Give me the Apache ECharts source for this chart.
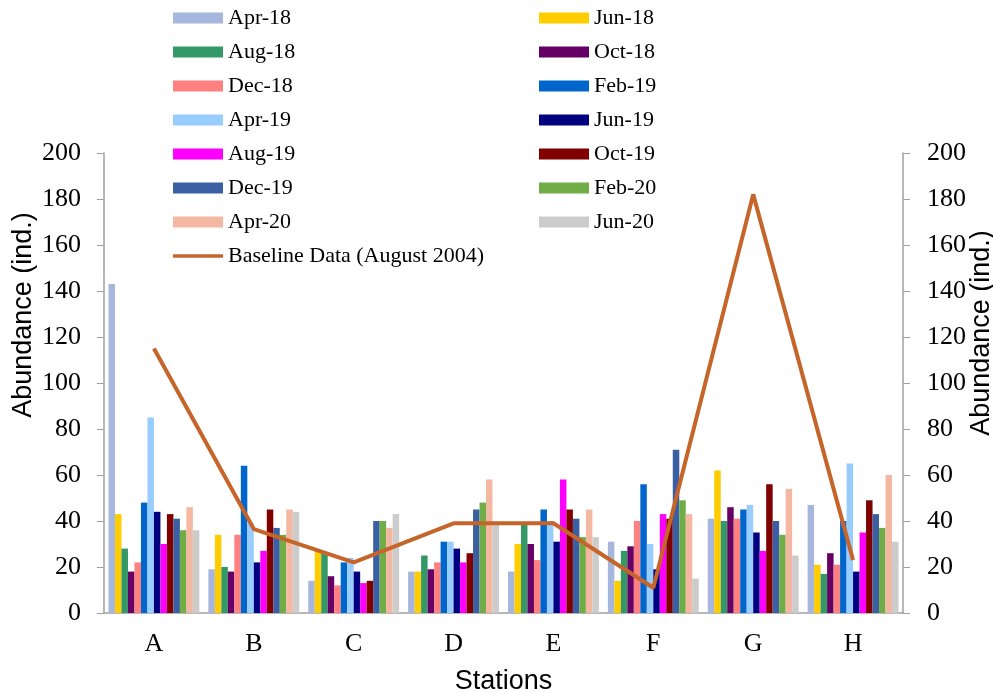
<!DOCTYPE html>
<html>
<head>
<meta charset="utf-8">
<script src="https://cdn.jsdelivr.net/npm/echarts@6/dist/echarts.min.js"></script>
<style>html,body{margin:0;padding:0;background:#fff;overflow:hidden;}#c{width:993px;height:692px;}</style>
</head>
<body>
<div id="c"></div>
<script>
const stations = ['A','B','C','D','E','F','G','H'];
const yTicks = [0,20,40,60,80,100,120,140,160,180,200];
const apr18 = [143,19,14,18,18,31,41,47];
const jun18 = [43,34,27,18,30,14,62,21];
const aug18 = [28,20,26,25,39,27,40,17];
const oct18 = [18,18,16,19,30,29,46,26];
const dec18 = [22,34,12,22,23,40,41,21];
const feb19 = [48,64,22,31,45,56,45,40];
const apr19 = [85,39,24,31,40,30,47,65];
const jun19 = [44,22,18,28,31,19,35,18];
const aug19 = [30,27,13,22,58,43,27,35];
const oct19 = [43,45,14,26,45,41,56,49];
const dec19 = [41,37,40,45,41,71,40,43];
const feb20 = [36,34,40,48,33,49,34,37];
const apr20 = [46,45,37,58,45,43,54,60];
const jun20 = [36,44,43,39,33,15,25,31];
const baseline = [115,36.5,22,39,39,11,182,23];

const barNames = ['Apr-18','Jun-18','Aug-18','Oct-18','Dec-18','Feb-19','Apr-19','Jun-19','Aug-19','Oct-19','Dec-19','Feb-20','Apr-20','Jun-20'];
const barData = [apr18,jun18,aug18,oct18,dec18,feb19,apr19,jun19,aug19,oct19,dec19,feb20,apr20,jun20];
const barColors = ['#A7B6DC','#FFCC00','#339966','#660066','#FF8080','#0066CC','#99CCFF','#000080','#FF00FF','#800000','#3A5FA3','#70AD47','#F4B8A2','#CCCCCC'];
const lineName = 'Baseline Data (August 2004)';
const lineColor = '#C5652A';

const serif = 'Liberation Serif';
const sans = 'Liberation Sans';

const series = barNames.map((n,i)=>({
  name:n, type:'bar', data:barData[i], barGap:'0%', barCategoryGap:'9%',
  itemStyle:{color:barColors[i]}, animation:false
}));
series.push({
  name:lineName, type:'line', data:baseline, symbol:'none', z:10,
  lineStyle:{color:lineColor, width:4}, itemStyle:{color:lineColor}, animation:false
});

const legendCommon = {
  orient:'vertical', top:2, itemWidth:50, itemHeight:11, itemGap:12, icon:'rect',
  textStyle:{fontFamily:serif, fontSize:22, lineHeight:22, color:'#000'}
};
const leftNames = barNames.filter((_,i)=>i%2===0).map(n=>({name:n}))
  .concat([{name:lineName, icon:'path://M0,0H52V3.5H0Z'}]);
const rightNames = barNames.filter((_,i)=>i%2===1).map(n=>({name:n}));

const yAxisCommon = {
  type:'value', min:0, max:200, interval:20,
  axisLine:{show:true, lineStyle:{color:'#A0A0A0', width:1.5}},
  axisTick:{show:true, length:7, inside:false, lineStyle:{color:'#A0A0A0'}},
  splitLine:{show:false},
  name:'Abundance (ind.)', nameLocation:'middle', nameRotate:90, nameMoveOverlap:false
};

const chart = echarts.init(document.getElementById('c'), null, {renderer:'canvas'});
chart.setOption({
  animation:false,
  backgroundColor:'#fff',
  grid:{left:104, right:90, top:153, bottom:79, containLabel:false, outerBoundsMode:'none'},
  legend:[
    Object.assign({left:168, data:leftNames}, legendCommon),
    Object.assign({left:534, data:rightNames}, legendCommon)
  ],
  xAxis:{
    type:'category', data:stations,
    axisLine:{lineStyle:{color:'#A0A0A0', width:1.5}},
    axisTick:{show:false},
    axisLabel:{fontFamily:serif, fontSize:26, color:'#000', margin:18},
    name:'Stations', nameLocation:'middle', nameGap:55, nameMoveOverlap:false,
    nameTextStyle:{fontFamily:sans, fontSize:27, color:'#000'}
  },
  yAxis:[
    Object.assign({position:'left', nameGap:67,
      nameTextStyle:{fontFamily:sans, fontSize:27, color:'#000', padding:[0,0,0,136]},
      axisLabel:{fontFamily:serif, fontSize:26, color:'#000', margin:23}}, yAxisCommon),
    Object.assign({position:'right', nameGap:65,
      nameTextStyle:{fontFamily:sans, fontSize:27, color:'#000', padding:[0,0,0,100]},
      axisLabel:{fontFamily:serif, fontSize:26, color:'#000', margin:24}}, yAxisCommon)
  ],
  series:series
});
</script>
</body>
</html>
